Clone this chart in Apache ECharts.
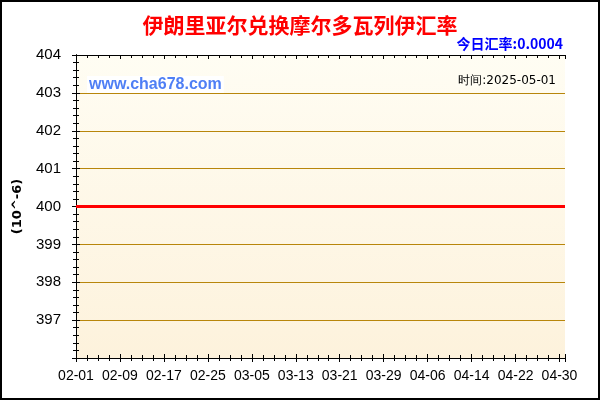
<!DOCTYPE html>
<html><head><meta charset="utf-8">
<script src="https://cdn.jsdelivr.net/npm/echarts@6/dist/echarts.min.js"></script>
<style>html,body{margin:0;padding:0;background:#fff}#c{width:600px;height:400px;box-sizing:border-box;border:2px solid #000}</style>
</head><body><div id="c"></div>
<script>
const titleText = '伊朗里亚尔兑换摩尔多瓦列伊汇率';
const rateText = '今日汇率:0.0004';
const siteText = 'www.cha678.com';
const timeText = '时间:2025-05-01';
const yName = '(10^-6)';
const dates = ['02-01','02-02','02-03','02-04','02-05','02-06','02-07','02-08','02-09','02-10','02-11','02-12','02-13','02-14','02-15','02-16','02-17','02-18','02-19','02-20','02-21','02-22','02-23','02-24','02-25','02-26','02-27','02-28','03-01','03-02','03-03','03-04','03-05','03-06','03-07','03-08','03-09','03-10','03-11','03-12','03-13','03-14','03-15','03-16','03-17','03-18','03-19','03-20','03-21','03-22','03-23','03-24','03-25','03-26','03-27','03-28','03-29','03-30','03-31','04-01','04-02','04-03','04-04','04-05','04-06','04-07','04-08','04-09','04-10','04-11','04-12','04-13','04-14','04-15','04-16','04-17','04-18','04-19','04-20','04-21','04-22','04-23','04-24','04-25','04-26','04-27','04-28','04-29','04-30','05-01'];
const values = [400,400,400,400,400,400,400,400,400,400,400,400,400,400,400,400,400,400,400,400,400,400,400,400,400,400,400,400,400,400,400,400,400,400,400,400,400,400,400,400,400,400,400,400,400,400,400,400,400,400,400,400,400,400,400,400,400,400,400,400,400,400,400,400,400,400,400,400,400,400,400,400,400,400,400,400,400,400,400,400,400,400,400,400,400,400,400,400,400,400];
const yMin = 396, yMax = 404, yStep = 1;

const chart = echarts.init(document.getElementById('c'), null, {renderer:'canvas'});
const pts = values.map((v,i)=>[i,v]);
const xMax = dates.length - 1;
const axLine = {show:true, lineStyle:{color:'#000', width:1}};
function xAx(pos, inside, labels){
  return {type:'value', position:pos, min:0, max:xMax, interval:8,
    axisLine: axLine,
    axisTick:{show:true, inside:inside, length:4, lineStyle:{color:'#000'}},
    minorTick:{show:true, splitNumber:4, length:3, lineStyle:{color:'#000'}},
    splitLine:{show:false},
    axisLabel: labels ? {show:true, color:'#000', fontFamily:'Liberation Sans, Arial', fontSize:14, margin:11, showMaxLabel:false,
      formatter:v=>dates[Math.round(v)]} : {show:false}};
}
function yAx(pos, inside, labels, grid){
  return {type:'value', position:pos, min:yMin, max:yMax, interval:yStep,
    axisLine: axLine,
    axisTick:{show:true, inside:inside, length:4, lineStyle:{color:'#000'}},
    minorTick:{show:true, splitNumber:5, length:3, lineStyle:{color:'#000'}},
    splitLine: grid ? {show:true, lineStyle:{color:'#b8860b', width:1}} : {show:false},
    name: labels ? yName : '', nameLocation:'middle', nameGap:52, nameRotate:90,
    nameTextStyle:{color:'#000', fontWeight:'bold', fontSize:13, fontFamily:'DejaVu Sans'},
    axisLabel: labels ? {show:true, color:'#000', fontFamily:'Liberation Sans, Arial', fontSize:15, margin:15,
      showMinLabel:false, formatter:v=>String(v)} : {show:false}};
}
chart.setOption({
  animation:false,
  backgroundColor:'#fff',
  title:[
    {text:titleText, left:'center', top:8, textStyle:{color:'#ff0000', fontSize:21, fontWeight:'bold', fontFamily:'Noto Sans CJK SC'}},
    {text:rateText, right:30, top:30, textStyle:{color:'#0000ff', fontSize:14, fontWeight:'bold', fontFamily:'Noto Sans CJK SC'}}
  ],
  grid:{left:74, right:33, top:53, bottom:40, show:true, borderWidth:0,
    backgroundColor:{type:'linear', x:0, y:0, x2:0, y2:1, colorStops:[{offset:0,color:'#fffdf3'},{offset:1,color:'#fdf2dc'}]}},
  xAxis:[xAx('bottom', false, true), xAx('bottom', true, false), xAx('top', true, false)],
  yAxis:[yAx('left', false, true, true), yAx('left', true, false, false), yAx('right', true, false, false)],
  graphic:[
    {type:'text', left:85, top:74, style:{text:siteText, fill:'#4f7ff5', font:'bold 16px "Liberation Sans", Arial', backgroundColor:'#fff', padding:[1,2]}},
    {type:'text', right:40, top:73, style:{text:timeText, fill:'#000', font:'12px "DejaVu Sans"', backgroundColor:'#fffdf3', padding:[0,2]}}
  ],
  series:[{type:'line', xAxisIndex:0, yAxisIndex:0, data:pts, symbol:'none', z:5,
    lineStyle:{color:'#ff0000', width:3}}]
});
</script></body></html>
